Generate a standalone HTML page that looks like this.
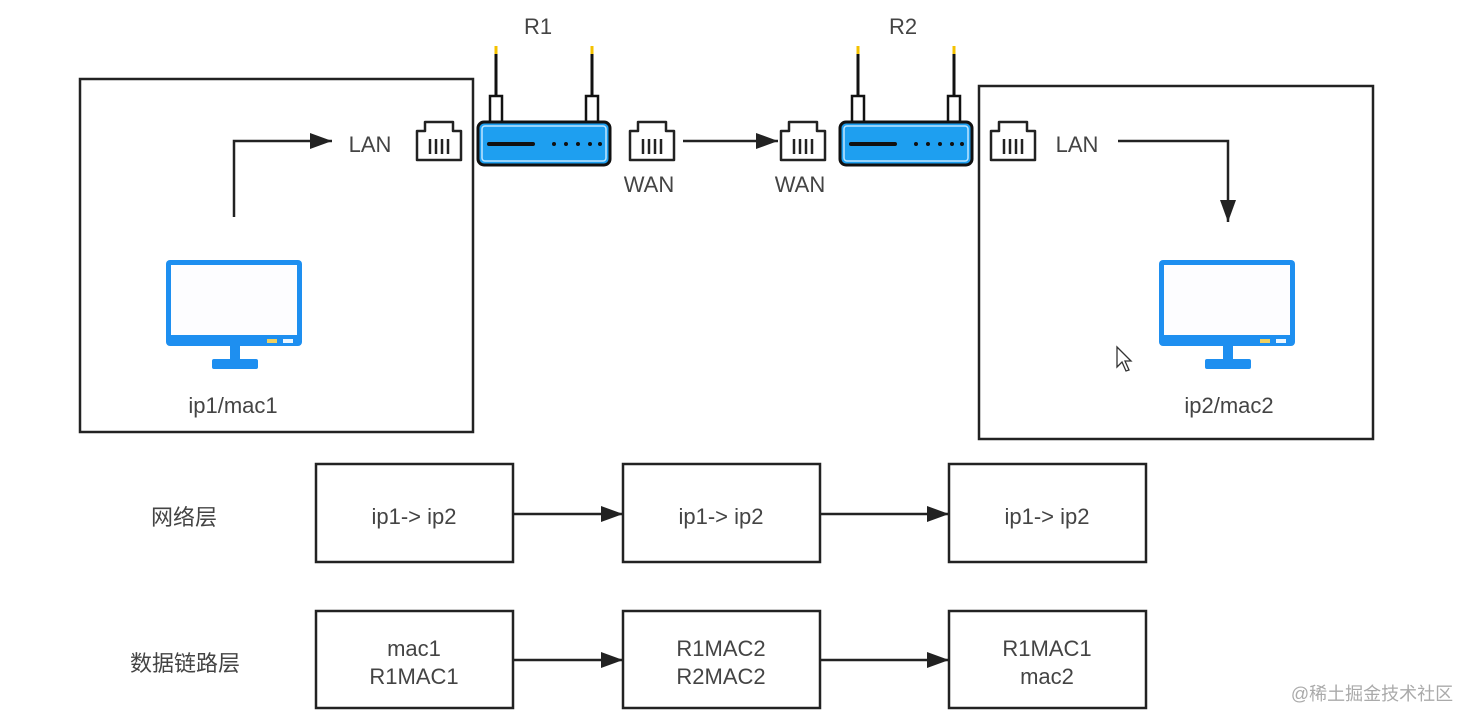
<!DOCTYPE html>
<html><head><meta charset="utf-8"><style>
html,body{margin:0;padding:0;background:#fff;}
svg{display:block;font-family:"Liberation Sans","Noto Sans CJK SC",sans-serif;}
</style></head><body>
<svg width="1474" height="726" viewBox="0 0 1474 726">
<defs>
<marker id="ah" markerWidth="24" markerHeight="18" refX="22" refY="8" orient="auto" markerUnits="userSpaceOnUse"><path d="M0,0 L22,8 L0,16 z" fill="#222"/></marker>
<g id="jack">
<path d="M2,44 L2,15 L10,15 L10,6 L38,6 L38,15 L46,15 L46,44 Z" fill="#fff" stroke="#222" stroke-width="2.5" stroke-linejoin="round"/>
<line x1="15" y1="23" x2="15" y2="38" stroke="#222" stroke-width="2.5"/>
<line x1="21" y1="23" x2="21" y2="38" stroke="#222" stroke-width="2.5"/>
<line x1="27" y1="23" x2="27" y2="38" stroke="#222" stroke-width="2.5"/>
<line x1="33" y1="23" x2="33" y2="38" stroke="#222" stroke-width="2.5"/>
</g>
<g id="router">
<line x1="18" y1="6" x2="18" y2="50" stroke="#111" stroke-width="3"/>
<line x1="114" y1="6" x2="114" y2="50" stroke="#111" stroke-width="3"/>
<rect x="16.5" y="0" width="3" height="8" fill="#f4c200"/>
<rect x="112.5" y="0" width="3" height="8" fill="#f4c200"/>
<rect x="12" y="50" width="12" height="28" fill="#fff" stroke="#111" stroke-width="2.5"/>
<rect x="108" y="50" width="12" height="28" fill="#fff" stroke="#111" stroke-width="2.5"/>
<rect x="0" y="76" width="132" height="43" rx="6" fill="#1e9ff0" stroke="#111" stroke-width="3"/>
<rect x="4" y="80" width="124" height="35" rx="3" fill="none" stroke="#bfe6ff" stroke-width="1.5"/>
<line x1="11" y1="98" x2="55" y2="98" stroke="#111" stroke-width="4" stroke-linecap="round"/>
<g fill="#111"><circle cx="76" cy="98" r="2"/><circle cx="88" cy="98" r="2"/><circle cx="100" cy="98" r="2"/><circle cx="112" cy="98" r="2"/><circle cx="122" cy="98" r="2"/></g>
</g>
<g id="mon">
<rect x="0" y="0" width="136" height="86" rx="4" fill="#1e8ff0"/>
<rect x="5" y="5" width="126" height="70" fill="#fdfdff"/>
<rect x="64" y="86" width="10" height="14" fill="#1e8ff0"/>
<rect x="46" y="99" width="46" height="10" rx="2" fill="#1e8ff0"/>
<rect x="101" y="79" width="10" height="4" fill="#f0d060"/>
<rect x="117" y="79" width="10" height="4" fill="#eaf6ff"/>
</g>
</defs>
<g fill="none" stroke="#222" stroke-width="2.5">
<rect x="80" y="79" width="393" height="353"/>
<rect x="979" y="86" width="394" height="353"/>
<rect x="316" y="464" width="197" height="98"/>
<rect x="623" y="464" width="197" height="98"/>
<rect x="949" y="464" width="197" height="98"/>
<rect x="316" y="611" width="197" height="97"/>
<rect x="623" y="611" width="197" height="97"/>
<rect x="949" y="611" width="197" height="97"/>
</g>
<g fill="none" stroke="#222" stroke-width="2.5" marker-end="url(#ah)">
<polyline points="234,217 234,141 332,141"/>
<line x1="683" y1="141" x2="778" y2="141"/>
<polyline points="1118,141 1228,141 1228,222"/>
<line x1="513" y1="514" x2="623" y2="514"/>
<line x1="820" y1="514" x2="949" y2="514"/>
<line x1="513" y1="660" x2="623" y2="660"/>
<line x1="820" y1="660" x2="949" y2="660"/>
</g>
<use href="#router" x="478" y="46"/>
<use href="#router" x="840" y="46"/>
<use href="#jack" x="415" y="116"/>
<use href="#jack" x="628" y="116"/>
<use href="#jack" x="779" y="116"/>
<use href="#jack" x="989" y="116"/>
<use href="#mon" x="166" y="260"/>
<use href="#mon" x="1159" y="260"/>
<path d="M1117,347 L1117,367 L1122,362 L1126,371 L1129,370 L1125,361 L1131,361 Z" fill="#fff" stroke="#333" stroke-width="1.3"/>
<g fill="#444" font-size="22" text-anchor="middle">
<text x="538" y="34">R1</text>
<text x="903" y="34">R2</text>
<text x="370" y="152">LAN</text>
<text x="1077" y="152">LAN</text>
<text x="649" y="192">WAN</text>
<text x="800" y="192">WAN</text>
<text x="233" y="413">ip1/mac1</text>
<text x="1229" y="413">ip2/mac2</text>
<text x="414" y="524">ip1-&gt; ip2</text>
<text x="721" y="524">ip1-&gt; ip2</text>
<text x="1047" y="524">ip1-&gt; ip2</text>
<text x="414" y="656">mac1</text>
<text x="414" y="684">R1MAC1</text>
<text x="721" y="656">R1MAC2</text>
<text x="721" y="684">R2MAC2</text>
<text x="1047" y="656">R1MAC1</text>
<text x="1047" y="684">mac2</text>
<text x="184" y="525">网络层</text>
<text x="185" y="671">数据链路层</text>
</g>
<text x="1372" y="700" fill="#aaa" font-size="18" text-anchor="middle">@稀土掘金技术社区</text>
</svg>
</body></html>
